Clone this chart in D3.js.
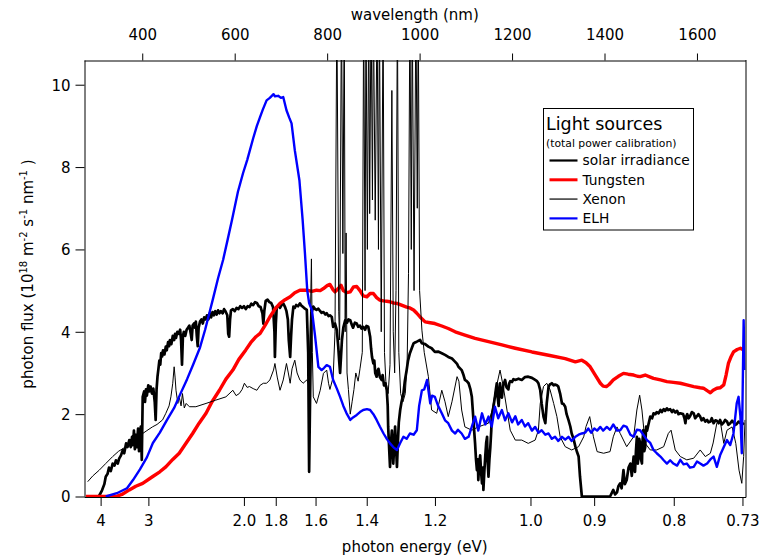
<!DOCTYPE html>
<html>
<head>
<meta charset="utf-8">
<script src="https://cdn.jsdelivr.net/npm/d3@7"></script>
<style>
  html, body { margin: 0; padding: 0; background: #fff; }
  svg { display: block; }
  text { font-family: "DejaVu Sans", Verdana, sans-serif; fill: #000; }
</style>
</head>
<body>
<svg id="chart" width="761" height="558"></svg>
<script>
// Photon flux spectra, [wavelength nm, flux in 1e18 m^-2 s^-1 nm^-1]
const solarIrradiance = [
  [306,0],[313,0.15],[318,0.3],[321,0.48],[325,0.55],[328,0.7],[332,0.62],[336,0.8],[340,0.75],
  [343,0.88],[347,0.8],[350,0.92],[354,1.0],[358,1.13],[361,1.05],[365,1.29],[368,1.2],[372,1.37],
  [375,1.2],[378,1.45],[380,1.25],[382,1.6],[384,1.15],[386,1.5],[388,1.2],[391,1.65],[393,1.1],
  [395,1.55],[397,1.7],[399,0.89],
  [401,2.42],[404,2.55],[406,2.3],[408,2.6],[410,2.45],[413,2.7],[415,2.55],[418,2.67],[421,2.5],
  [424,2.62],[427,2.3],[429,1.86],[431,2.6],[433,2.91],[435,3.1],[437,3.3],[439,3.2],[441,3.48],
  [443,3.4],[445,3.55],[448,3.45],[451,3.64],[453,3.55],[456,3.75],[458,3.65],[460,3.8],[463,3.7],
  [466,3.9],[469,3.8],[471,3.95],[473,3.85],[476,4.0],[479,3.95],[482,4.05],[484,3.8],[486,3.2],
  [488,3.9],[490,4.0],[493,3.9],[496,4.05],[499,4.1],[502,4.15],[505,3.95],[507,3.8],[509,4.15],
  [512,4.2],[514,4.1],[516,4.25],[518,3.9],[520,3.65],[522,4.1],[525,4.25],[528,4.3],[531,4.2],
  [534,4.35],[537,4.3],[540,4.4],[543,4.3],[546,4.45],[549,4.35],[552,4.48],[555,4.4],[558,4.5],
  [561,4.42],[564,4.52],[567,4.45],[570,4.5],[574,4.45],[577,4.55],[580,4.5],[584,4.4],[586,3.95],
  [588,3.88],[590,4.3],[592,4.52],[596,4.55],[600,4.5],[604,4.58],[608,4.55],[612,4.62],[616,4.58],
  [620,4.62],[624,4.55],[628,4.62],[632,4.6],[636,4.68],[640,4.65],[644,4.72],[648,4.7],[652,4.62],
  [656,4.6],[660,4.45],[662,4.2],[664,4.5],[667,4.75],[671,4.78],[675,4.72],[679,4.7],[683,4.6],
  [686,4.0],[687,3.39],[689,4.2],[691,4.61],[695,4.63],[698,4.58],[702,4.66],[705,4.69],
  [709,4.6],[712,4.5],[715,4.3],[717,3.8],[720,3.39],[722,3.9],[724,4.3],[727,4.61],[730,4.58],
  [733,4.65],[737,4.62],[741,4.69],[744,4.64],[748,4.6],[752,4.56],[756,4.53],
  [759,3.5],[761,0.6],[764,3.2],[766,4.45],[770,4.61],[774,4.55],[777,4.53],[781,4.56],[785,4.5],
  [788,4.46],[792,4.48],[796,4.42],[799,4.45],[803,4.38],[806,4.4],[810,4.36],[813,4.12],[817,4.2],
  [821,4.04],[824,3.64],[826,3.3],[828,3.0],[830,3.4],[832,3.8],[835,4.1],[839,4.28],[843,4.22],
  [846,4.3],[850,4.28],[853,4.18],[856,4.1],[860,4.22],[864,4.2],[867,4.12],[871,4.15],[874,4.08],
  [878,4.12],[882,4.05],[885,4.14],[889,4.12],[893,3.88],[895,3.6],[897,3.39],[900,3.23],[902,3.3],
  [904,3.0],[907,2.91],[909,3.05],[911,3.1],[914,2.9],[918,2.83],[920,2.95],[923,2.7],[926,2.75],
  [929,2.58],[931,2.2],[932,1.69],[934,1.2],[936,0.72],[938,1.3],[940,1.6],[942,1.1],[943,0.8],
  [945,1.2],[947,1.7],[949,1.2],[951,0.72],[953,1.3],[955,1.8],[958,2.1],[961,2.3],[965,2.5],
  [968,2.8],[972,3.07],[975,3.3],[979,3.48],[983,3.6],[987,3.72],[990,3.74],[994,3.76],
  [1001,3.8],[1005,3.72],[1012,3.7],[1019,3.64],[1026,3.6],[1033,3.51],[1040,3.52],[1048,3.48],
  [1055,3.44],[1062,3.39],[1070,3.35],[1077,3.27],[1081,3.22],[1084,3.15],
  [1091,3.07],[1095,2.95],[1098,2.83],[1102,2.8],[1106,2.75],[1110,2.6],[1113,2.42],[1116,1.94],
  [1118,1.6],[1120,1.29],[1122,0.9],[1124,0.64],[1126,0.9],[1127,0.4],
  [1129,0.8],[1131,1.0],[1133,0.6],[1135,0.32],[1137,0.7],[1138,0.16],[1140,0.6],[1142,0.97],
  [1144,1.3],[1146,1.45],[1147,0.9],[1149,0.48],[1151,0.9],[1153,1.2],[1155,1.6],[1156,1.94],
  [1160,2.2],[1163,2.42],[1165,2.6],[1167,2.75],[1169,2.4],[1171,2.2],[1173,2.6],[1174,2.75],
  [1176,2.5],[1178,2.4],[1181,2.7],[1185,2.83],[1188,2.65],[1192,2.6],[1194,2.75],[1196,2.8],
  [1200,2.78],[1203,2.85],[1207,2.83],[1214,2.86],[1221,2.83],[1228,2.9],[1235,2.91],[1243,2.88],
  [1250,2.83],[1254,2.8],[1257,2.75],[1261,2.58],[1264,2.26],[1268,1.94],
  [1272,1.78],[1275,2.26],[1279,2.67],[1282,2.72],[1286,2.75],[1290,2.7],[1293,2.72],[1297,2.7],
  [1300,2.67],[1304,2.5],[1308,2.26],[1311,2.25],[1315,2.18],[1318,2.0],
  [1322,1.86],[1326,1.7],[1329,1.53],[1333,1.4],[1337,1.21],[1340,1.1],[1344,0.97],[1347,0.48],
  [1351,0],[1412,0],[1419,0.16],
  [1423,0.05],[1427,0.1],[1430,0.25],[1434,0.32],[1437,0.2],[1441,0.64],[1444,0.3],[1448,0.4],
  [1452,0.7],[1456,0.8],[1459,0.5],[1463,0.97],[1466,0.6],[1468,1.1],[1470,1.45],
  [1472,0.8],[1473,0.9],[1475,1.4],[1477,1.29],[1479,0.9],[1481,0.8],[1482,1.3],[1484,1.61],
  [1486,1.1],[1488,1.2],[1490,1.7],[1492,1.6],[1495,1.75],[1499,1.94],[1503,1.9],[1506,2.02],
  [1510,2.0],[1513,2.05],[1517,2.02],[1521,2.1],[1524,2.05],[1528,2.12],[1531,2.08],[1535,2.14],
  [1538,2.1],[1542,2.12],[1546,2.05],[1549,2.1],[1553,2.04],[1557,2.08],[1560,2.0],[1564,2.02],
  [1570,2.0],[1573,1.9],[1575,1.78],[1577,1.95],[1579,2.0],[1582,1.9],[1585,1.95],[1589,2.05],
  [1593,2.02],[1596,1.9],[1600,1.95],[1603,2.0],[1607,1.94],[1610,1.85],[1614,1.9],[1618,1.82],
  [1622,1.86],[1625,1.8],[1629,1.82],[1632,1.9],[1636,1.78],[1640,1.85],[1643,1.84],[1647,1.78],
  [1650,1.86],[1654,1.75],[1658,1.8],[1661,1.86],[1665,1.82],[1668,1.74],[1672,1.78],[1676,1.84],
  [1679,1.8],[1683,1.74],[1686,1.76],[1690,1.82],[1694,1.78],[1697,1.8],[1701,1.74]
];

const tungsten = [
  [278,0],[343,0],[356,0.05],[372,0.16],[386,0.25],[401,0.32],[422,0.48],[438,0.6],[451,0.72],
  [466,0.9],[480,1.05],[495,1.3],[509,1.53],[523,1.78],[538,2.02],[551,2.3],[567,2.58],[581,2.85],
  [596,3.07],[609,3.33],[624,3.56],[635,3.74],[646,3.88],[655,3.96],[666,4.16],[676,4.36],
  [687,4.55],[698,4.69],[709,4.78],[720,4.85],[730,4.95],[741,5.01],[756,5.01],[767,4.98],
  [777,5.01],[785,5.0],[792,5.05],[800,5.12],[806,5.15],[813,5.02],[817,4.97],[824,5.05],
  [830,5.13],[835,5.0],[842,4.95],[850,4.97],[857,5.09],[864,5.1],[871,5.0],[878,4.87],[886,4.85],
  [893,4.93],[900,4.93],[907,4.83],[914,4.77],[922,4.75],[929,4.74],[936,4.73],[943,4.7],
  [951,4.69],[958,4.66],[965,4.63],[972,4.6],[979,4.58],[987,4.53],[994,4.45],[1001,4.36],
  [1012,4.24],[1023,4.22],[1033,4.2],[1048,4.14],[1062,4.08],[1077,4.0],[1098,3.92],[1120,3.84],
  [1149,3.76],[1178,3.68],[1207,3.6],[1243,3.51],[1279,3.43],[1315,3.35],[1337,3.27],[1351,3.31],
  [1360,3.25],[1369,3.15],[1380,2.95],[1391,2.75],[1397,2.68],[1404,2.67],[1410,2.72],[1419,2.83],
  [1430,2.92],[1441,2.99],[1451,2.97],[1463,2.95],[1471,2.92],[1477,2.91],[1488,2.95],[1499,2.9],
  [1506,2.87],[1521,2.83],[1535,2.79],[1549,2.77],[1564,2.75],[1578,2.71],[1593,2.67],[1607,2.64],
  [1614,2.63],[1622,2.57],[1629,2.52],[1635,2.58],[1643,2.63],[1650,2.64],[1658,2.71],[1663,2.95],
  [1668,3.23],[1674,3.4],[1679,3.51],[1687,3.57],[1694,3.6],[1701,3.56]
];

const xenon = [
  [282,0.36],[293,0.5],[307,0.64],[321,0.8],[336,0.97],[349,1.1],[365,1.21],[375,1.35],[386,1.45],
  [401,1.53],[410,1.6],[422,1.69],[432,1.75],[444,1.86],[451,2.02],[458,2.2],[462,2.42],[466,2.75],
  [469,3.15],[471,2.9],[473,2.58],[477,2.26],[480,2.42],[484,2.2],[487,2.5],[491,2.15],[495,2.26],
  [502,2.18],[516,2.18],[538,2.26],[559,2.34],[581,2.42],[596,2.58],[603,2.45],[610,2.5],[616,2.6],
  [621,2.75],[627,2.65],[632,2.67],[640,2.62],[648,2.58],[655,2.7],[662,2.75],[669,2.75],[676,2.83],
  [684,3.07],[687,3.23],[692,2.9],[698,2.58],[705,2.83],[712,3.23],[716,3.0],[720,2.75],[724,3.1],
  [730,3.31],[735,3.0],[741,2.83],[748,2.75],[756,2.83],[761,2.7],[764,4.5],[766,5.77],[768,3.5],
  [770,2.42],[777,2.26],[785,2.58],[792,2.99],[799,3.07],[803,2.75],[806,2.6],[813,2.9],[817,4.0],
  [821,12],[825,4.5],[827,3.8],[831,12],[834,5.9],[837,12],[839,4.0],[841,6.4],[843,3.0],[846,2.6],
  [850,2.0],[854,2.3],[858,2.6],[862,3.0],[867,2.8],[871,3.1],[876,3.5],[879,12],[882,5.0],[884,12],
  [887,6.0],[890,12],[892,6.87],[895,12],[898,7.2],[900,12],[904,6.71],[908,12],[911,6.0],[913,12],
  [917,4.0],[921,12],[924,3.5],[927,2.8],[932,2.5],[936,3.2],[940,9.86],[943,4.0],[946,3.0],
  [949,5.0],[952,12],[955,3.5],[959,2.5],[964,2.3],[969,2.5],[973,3.2],[976,5.42],[979,12],[982,6.0],
  [984,12],[988,5.0],[992,12],[995,7.0],[997,12],[1000,5.0],[1005,4.04],[1010,3.5],[1019,2.91],
  [1026,2.1],[1037,2.02],[1048,2.58],[1055,2.3],[1062,1.94],[1070,2.3],[1081,2.91],[1085,2.8],
  [1091,2.1],[1098,1.69],[1113,1.61],[1127,1.69],[1149,1.78],[1157,2.1],[1163,2.5],[1174,3.07],
  [1181,2.67],[1189,2.1],[1196,1.61],[1207,1.37],[1221,1.37],[1235,1.29],[1250,1.37],[1257,1.61],
  [1261,2.26],[1268,2.67],[1275,2.75],[1282,2.6],[1290,2.26],[1297,1.94],[1304,1.45],[1315,1.21],
  [1329,1.13],[1344,1.21],[1355,1.45],[1360,1.7],[1368,1.94],[1376,1.45],[1384,1.09],[1398,1.05],
  [1412,1.09],[1419,1.45],[1427,1.69],[1434,1.53],[1448,1.21],[1463,1.45],[1470,2.1],[1476,2.46],
  [1481,2.1],[1488,1.29],[1499,1.13],[1513,1.13],[1528,1.21],[1538,1.53],[1544,1.61],[1553,1.13],
  [1564,0.97],[1578,0.89],[1593,0.93],[1607,1.13],[1618,0.97],[1629,1.05],[1635,1.3],[1643,1.78],
  [1650,1.86],[1658,1.29],[1665,1.61],[1676,1.69],[1684,1.29],[1691,0.64],[1697,0.32],[1701,0.97],
  [1704,1.86]
];

const elh = [
  [321,0],[345,0.08],[367,0.2],[380,0.4],[395,0.66],[410,0.95],[423,1.3],[438,1.55],[453,1.85],
  [469,2.15],[482,2.48],[497,2.85],[510,3.2],[525,3.62],[536,4.05],[544,4.4],[553,4.8],[564,5.3],
  [575,5.75],[585,6.25],[594,6.71],[607,7.4],[618,7.85],[627,8.17],[640,8.7],[648,9.0],[655,9.22],
  [661,9.4],[669,9.62],[676,9.68],[684,9.77],[687,9.72],[694,9.73],[700,9.68],[705,9.7],[712,9.38],
  [718,9.2],[723,9.06],[730,8.41],[740,7.68],[747,6.71],[752,5.9],[757,5.0],[761,4.7],[767,4.53],
  [774,3.88],[781,3.15],[788,3.07],[793,3.12],[799,3.19],[806,3.15],[813,2.83],[821,2.62],[828,2.42],
  [835,2.2],[842,2.02],[850,1.86],[856,1.92],[864,1.98],[871,2.05],[878,2.1],[886,2.12],[893,2.1],
  [900,2.0],[907,1.86],[914,1.7],[922,1.53],[929,1.4],[936,1.29],[943,1.2],[951,1.13],[958,1.3],
  [965,1.45],[972,1.4],[979,1.53],[987,1.5],[994,1.61],[999,2.2],[1005,2.58],[1010,2.6],[1016,2.83],
  [1023,2.26],[1027,2.45],[1033,2.42],[1040,2.2],[1048,2.02],[1055,1.85],[1062,1.78],[1070,1.6],
  [1077,1.53],[1083,1.62],[1091,1.53],[1098,1.4],[1106,1.45],[1113,1.7],[1120,1.94],[1127,1.6],
  [1135,2.02],[1142,1.75],[1149,1.94],[1156,1.7],[1163,2.18],[1170,1.9],[1178,2.1],[1185,1.85],
  [1192,2.02],[1200,1.8],[1207,1.95],[1213,1.75],[1221,1.86],[1228,1.7],[1235,1.78],[1243,1.6],
  [1250,1.69],[1257,1.55],[1264,1.61],[1272,1.5],[1279,1.53],[1286,1.4],[1293,1.45],[1300,1.35],
  [1308,1.45],[1315,1.38],[1322,1.45],[1329,1.35],[1337,1.45],[1344,1.5],[1351,1.53],[1358,1.55],
  [1365,1.65],[1371,1.55],[1378,1.65],[1384,1.6],[1391,1.69],[1397,1.6],[1405,1.69],[1412,1.62],
  [1419,1.75],[1427,1.6],[1434,1.61],[1441,1.72],[1448,1.69],[1456,1.5],[1463,1.45],[1470,1.62],
  [1477,1.61],[1484,1.5],[1492,1.37],[1499,1.3],[1506,1.13],[1513,1.05],[1521,0.97],[1528,0.88],
  [1535,0.8],[1542,0.88],[1549,0.8],[1557,0.75],[1564,0.89],[1571,0.78],[1578,0.8],[1585,0.7],
  [1593,0.72],[1600,0.85],[1607,0.8],[1614,0.75],[1622,0.8],[1629,0.9],[1636,0.97],[1643,0.72],
  [1650,1.0],[1658,1.2],[1665,1.37],[1672,1.25],[1679,1.53],[1686,2.26],[1690,2.42],[1694,1.94],
  [1697,1.05],[1701,4.28],[1703,3.07]
];

// Axis ticks
const energyTicks = [4, 3, 2.0, 1.8, 1.6, 1.4, 1.2, 1.0, 0.9, 0.8, 0.73];
const energyLabels = ["4", "3", "2.0", "1.8", "1.6", "1.4", "1.2", "1.0", "0.9", "0.8", "0.73"];
const wavelengthTicks = [400, 600, 800, 1000, 1200, 1400, 1600];
const fluxTicks = [0, 2, 4, 6, 8, 10];

const legendTitle = "Light sources";
const legendSubtitle = "(total power calibration)";
const seriesNames = ["solar irradiance", "Tungsten", "Xenon", "ELH"];

const HC = 1239.84; // eV·nm

const svg = d3.select("#chart");
const plot = { left: 84, right: 745.5, top: 60, bottom: 496.5 };

const x = d3.scaleLinear().domain([274, 1705]).range([plot.left, plot.right]);
const y = d3.scaleLinear().domain([0, 10.6]).range([plot.bottom, plot.top]);

svg.append("defs").append("clipPath").attr("id", "plotClip")
  .append("rect")
  .attr("x", plot.left).attr("y", plot.top)
  .attr("width", plot.right - plot.left).attr("height", plot.bottom - plot.top + 1);

const line = d3.line().x(d => x(d[0])).y(d => y(d[1]));

const series = [
  { name: seriesNames[0], data: solarIrradiance, color: "#000", width: 2.7, legendColor: "#000", legendWidth: 2.2 },
  { name: seriesNames[1], data: tungsten, color: "#f00", width: 3.4, legendColor: "#f00", legendWidth: 3 },
  { name: seriesNames[2], data: xenon, color: "#000", width: 1, legendColor: "#555", legendWidth: 1.8 },
  { name: seriesNames[3], data: elh, color: "#00f", width: 2.4, legendColor: "#00f", legendWidth: 2.2 }
];

const traces = svg.append("g").attr("clip-path", "url(#plotClip)");
series.forEach(s => {
  traces.append("path")
    .datum(s.data)
    .attr("d", line)
    .attr("fill", "none")
    .attr("stroke", s.color)
    .attr("stroke-width", s.width)
    .attr("stroke-linejoin", "round");
});

// Axes
const axisFont = 15;

const bottomAxis = svg.append("g")
  .attr("transform", `translate(0,${plot.bottom + 0.5})`)
  .call(d3.axisBottom(x)
    .tickValues(energyTicks.map(e => HC / e))
    .tickFormat((d, i) => energyLabels[i])
    .tickSize(9).tickSizeOuter(0));
bottomAxis.selectAll("text").attr("y", 0).attr("dy", 0)
  .attr("transform", "translate(0,29)").style("font-size", axisFont + "px");

const topAxis = svg.append("g")
  .attr("transform", `translate(0,${plot.top + 0.5})`)
  .call(d3.axisTop(x).tickValues(wavelengthTicks).tickFormat(d3.format("d"))
    .tickSize(7).tickSizeOuter(0));
topAxis.selectAll("text").attr("y", 0).attr("dy", 0)
  .attr("transform", "translate(0,-21)").style("font-size", axisFont + "px");

const leftAxis = svg.append("g")
  .attr("transform", `translate(${plot.left + 0.5},0)`)
  .call(d3.axisLeft(y).tickValues(fluxTicks).tickFormat(d3.format("d"))
    .tickSize(9).tickSizeOuter(0));
leftAxis.selectAll("text").attr("x", -14).attr("dy", "0.36em").style("font-size", axisFont + "px");

[bottomAxis, topAxis, leftAxis].forEach(g => {
  g.selectAll("path.domain").attr("stroke", "#000").attr("stroke-width", 1);
  g.selectAll(".tick line").attr("stroke", "#000").attr("stroke-width", 1);
  g.selectAll("text").attr("fill", "#000").style("font-family", '"DejaVu Sans", sans-serif');
});

// Right frame edge
svg.append("line")
  .attr("x1", plot.right + 0.5).attr("x2", plot.right + 0.5)
  .attr("y1", plot.top).attr("y2", plot.bottom + 1)
  .attr("stroke", "#000").attr("stroke-width", 1);

// Axis titles
svg.append("text")
  .attr("x", (plot.left + plot.right) / 2).attr("y", 552)
  .attr("text-anchor", "middle").style("font-size", "15px")
  .text("photon energy (eV)");

svg.append("text")
  .attr("x", (plot.left + plot.right) / 2).attr("y", 20)
  .attr("text-anchor", "middle").style("font-size", "15px")
  .text("wavelength (nm)");

const yTitle = svg.append("text")
  .attr("transform", "translate(33,274) rotate(-90)")
  .attr("text-anchor", "middle").style("font-size", "15px");
const yParts = [
  ["photon flux (10", false], ["18", true], [" m", false], ["-2", true],
  [" s", false], ["-1", true], [" nm", false], ["-1", true], [" )", false]
];
yParts.forEach(([t, sup]) => {
  const ts = yTitle.append("tspan").text(t);
  if (sup) ts.attr("baseline-shift", "60%").style("font-size", "10px");
  else ts.attr("baseline-shift", "0%");
});

// Legend
const legend = svg.append("g");
legend.append("rect")
  .attr("x", 543.5).attr("y", 108.5).attr("width", 150).attr("height", 121.5)
  .attr("fill", "#fff").attr("stroke", "#000").attr("stroke-width", 1);
legend.append("text").attr("x", 546).attr("y", 129.5)
  .style("font-size", "17.5px").text(legendTitle);
legend.append("text").attr("x", 546).attr("y", 146.5)
  .style("font-size", "10.8px").text(legendSubtitle);
series.forEach((s, i) => {
  const yy = 160.5 + i * 19.3;
  legend.append("line")
    .attr("x1", 549.5).attr("x2", 577.5).attr("y1", yy).attr("y2", yy)
    .attr("stroke", s.legendColor).attr("stroke-width", s.legendWidth);
  legend.append("text").attr("x", 582.5).attr("y", yy + 4.8)
    .style("font-size", "13.8px").text(s.name);
});
</script>
</body>
</html>
